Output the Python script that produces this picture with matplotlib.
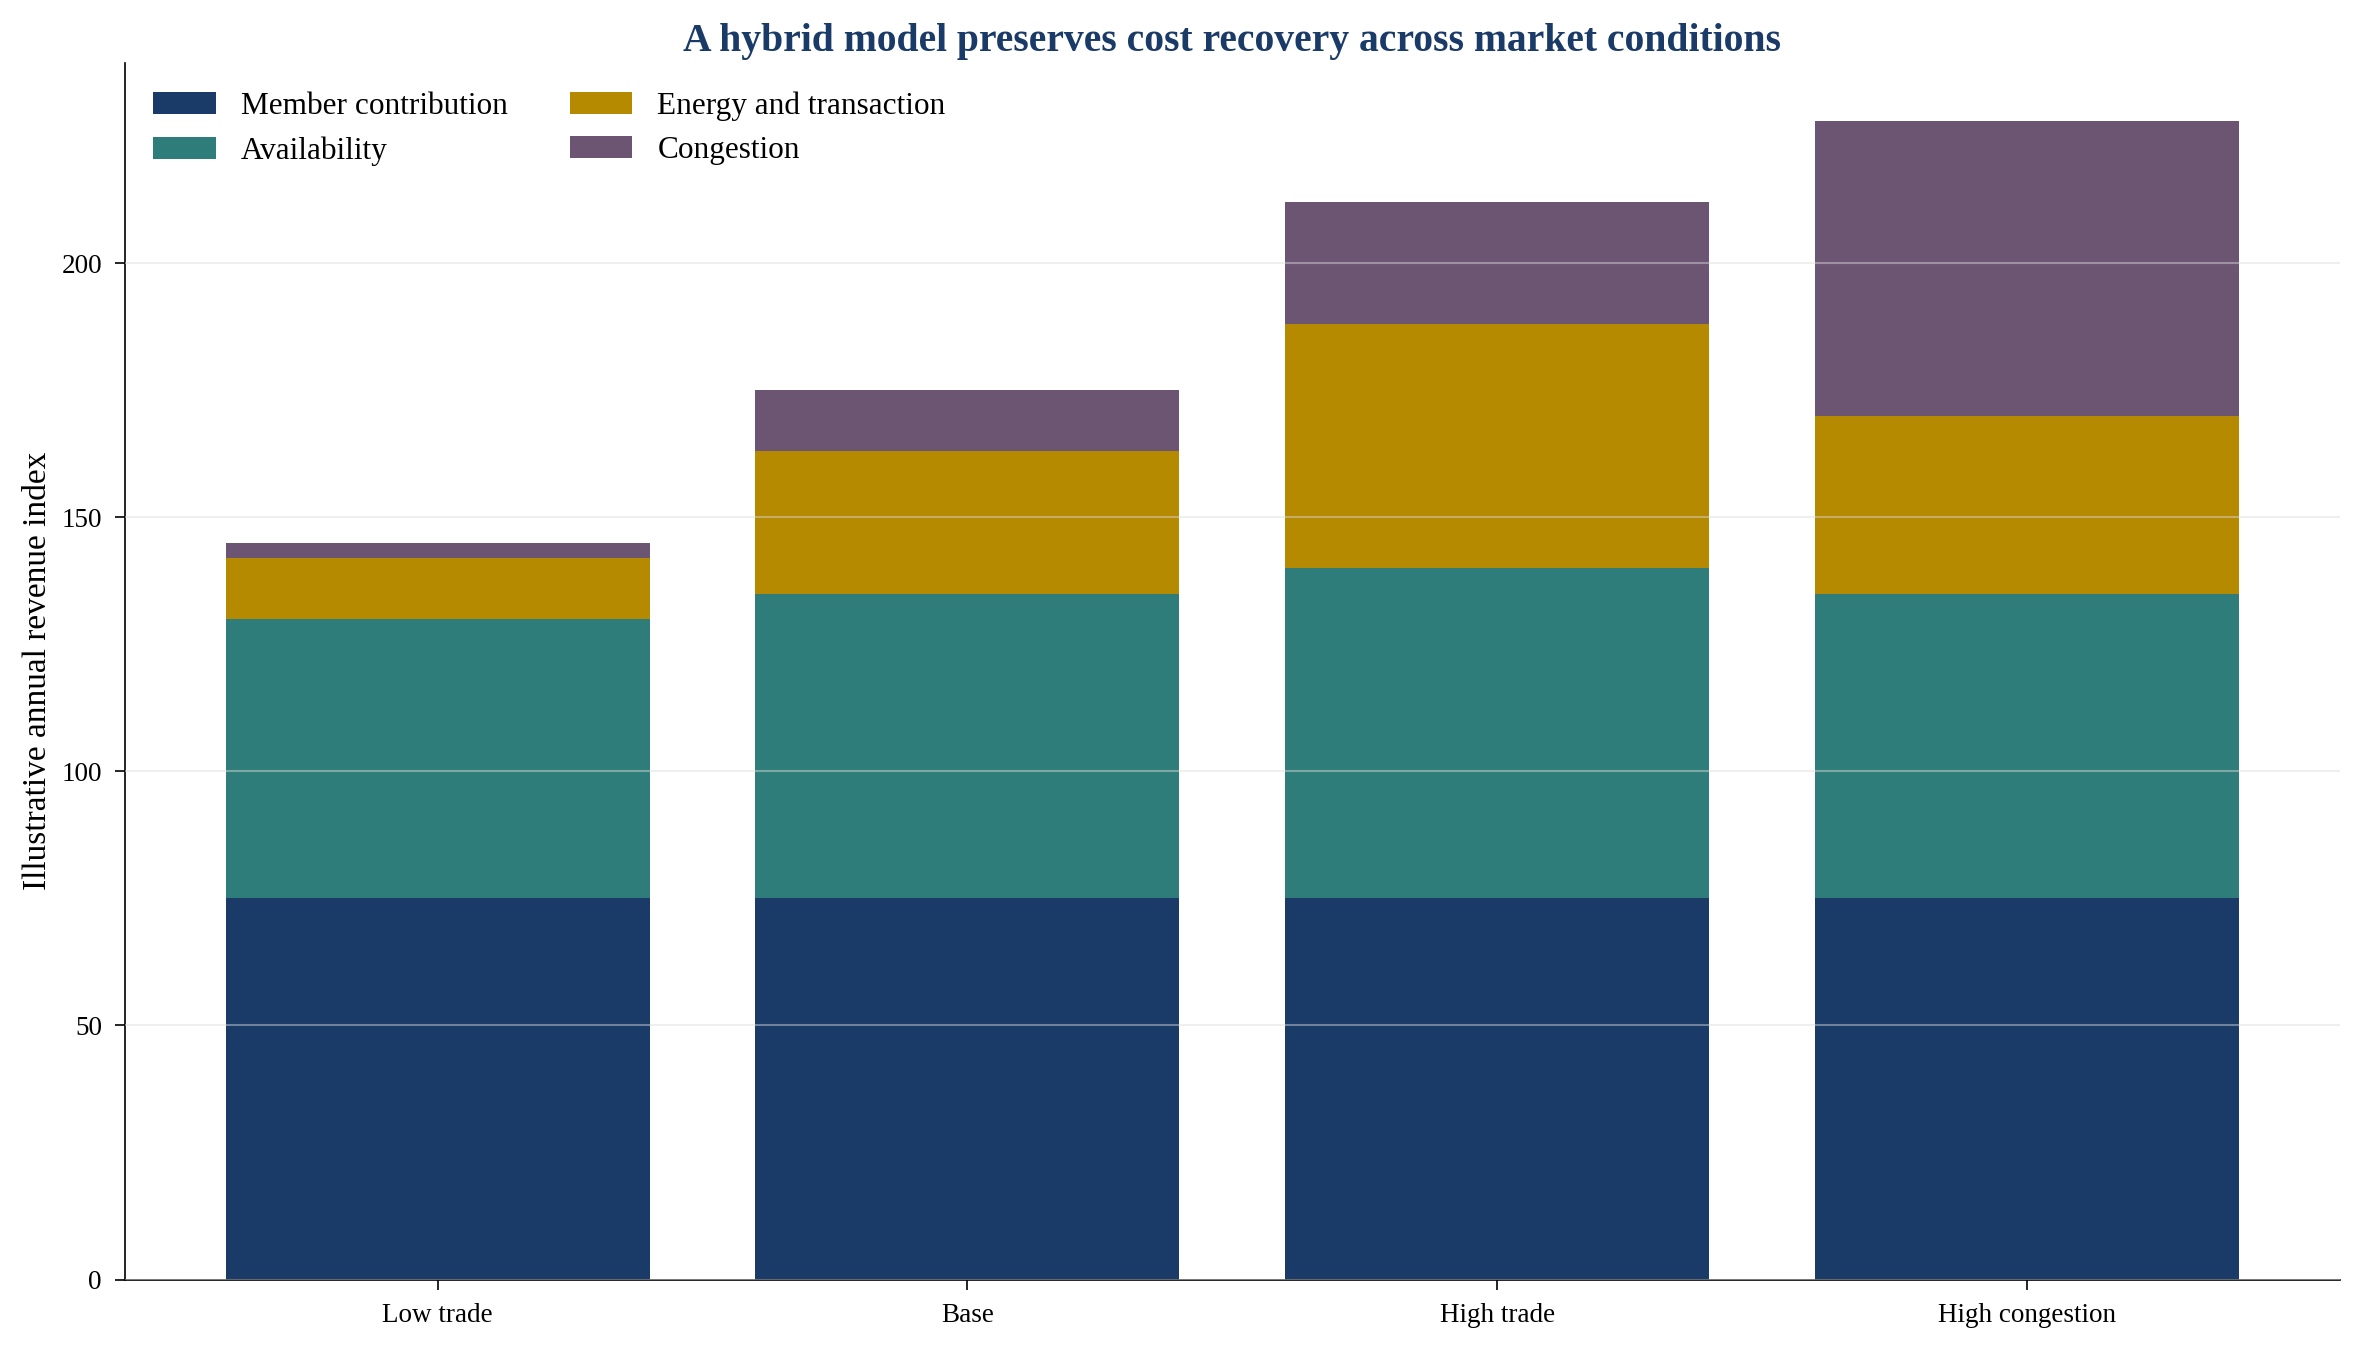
import numpy as np
import matplotlib
matplotlib.use('Agg')
import matplotlib.pyplot as plt

plt.rcParams['font.family'] = ['Liberation Serif', 'DejaVu Serif']

scenarios = ['Low trade', 'Base', 'High trade', 'High congestion']
member = [75, 75, 75, 75]
availability = [55, 60, 65, 60]
energy = [12, 28, 48, 35]
congestion = [3, 12, 24, 58]

series = [
    ('Member contribution', member, '#1a3a67'),
    ('Availability', availability, '#2e7d7a'),
    ('Energy and transaction', energy, '#b58900'),
    ('Congestion', congestion, '#6b5573'),
]

fig, ax = plt.subplots(figsize=(15.75, 9.0), dpi=150)
x = np.arange(len(scenarios))
bottom = np.zeros(len(scenarios))
for name, vals, col in series:
    ax.bar(x, vals, 0.8, bottom=bottom, color=col, label=name, zorder=1)
    bottom += np.array(vals)

ax.set_xticks(x)
ax.set_xticklabels(scenarios, fontsize=13)
ax.tick_params(axis='both', labelsize=13, length=5, pad=6)
ax.set_ylabel('Illustrative annual revenue index', fontsize=16)
ax.set_title('A hybrid model preserves cost recovery across market conditions',
             fontsize=19, fontweight='bold', color='#1a3a67')
ax.yaxis.grid(True, color='#dddddd', alpha=0.45, linewidth=1, zorder=3)
ax.set_axisbelow(False)
ax.spines['top'].set_visible(False)
ax.spines['right'].set_visible(False)
ax.legend(loc='upper left', ncol=2, frameon=False, fontsize=15)

plt.tight_layout()
plt.savefig('out.png', dpi=150)
